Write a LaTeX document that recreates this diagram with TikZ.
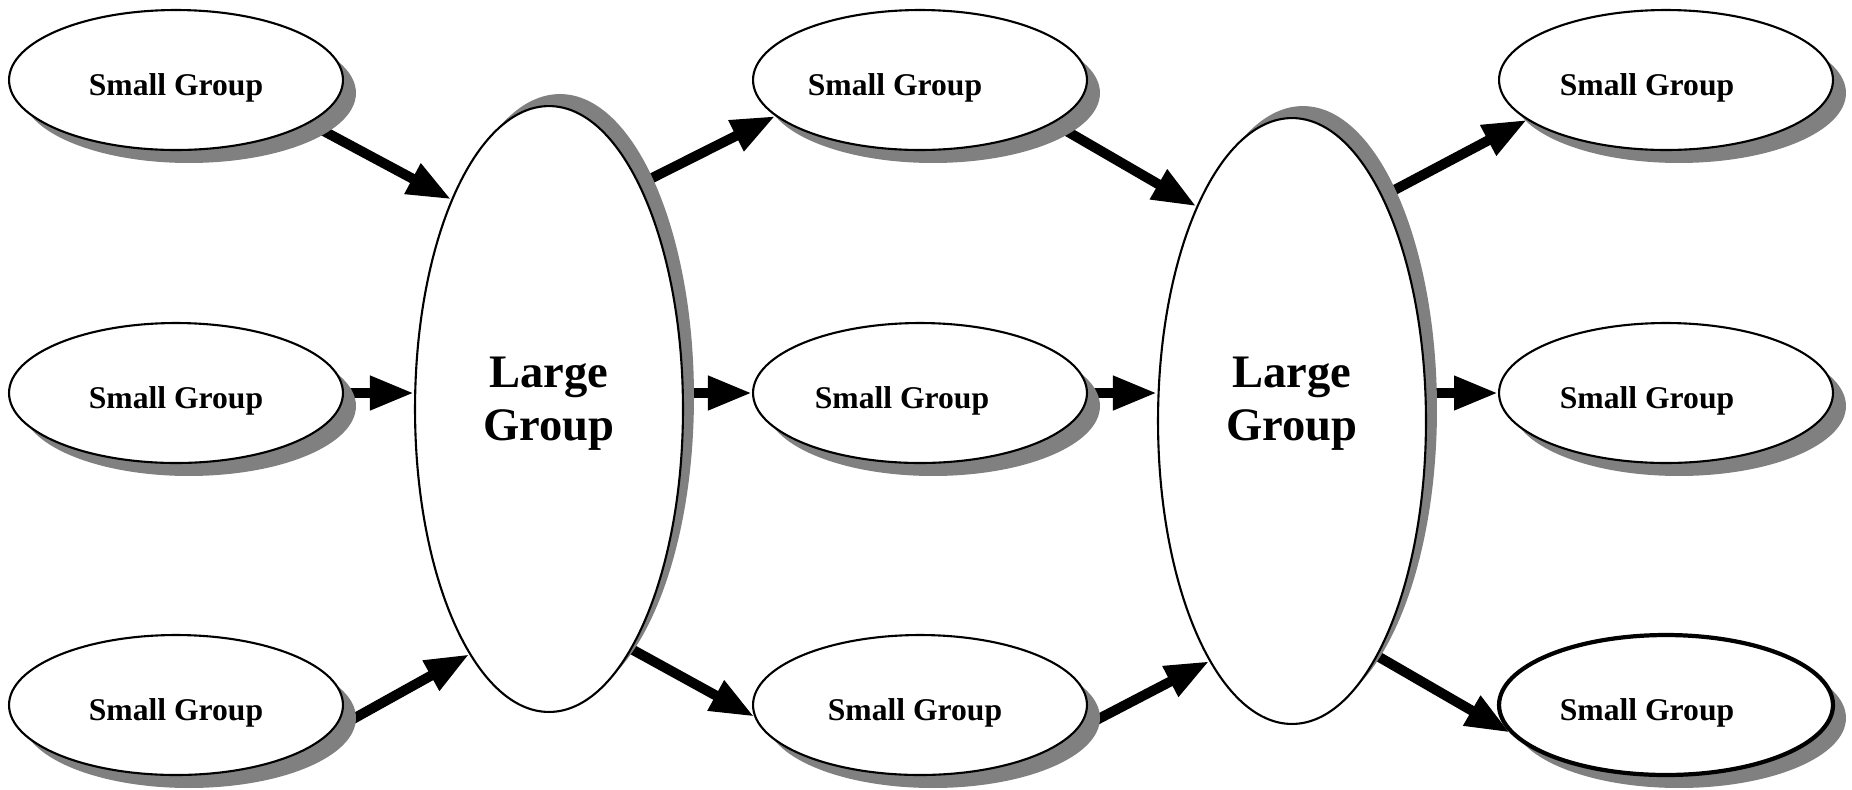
\documentclass[tikz,border=0pt]{standalone}
\usepackage{fontspec}
\setmainfont{Liberation Serif}
\usetikzlibrary{shapes.geometric,shadows,arrows.meta,backgrounds}
\definecolor{shadowgray}{RGB}{128,128,128}
\tikzset{
  grp/.style={ellipse, draw, line width=1.2pt, fill=white, inner sep=0pt},
  small/.style={grp, minimum width=6.68cm, minimum height=2.8cm,
    drop shadow={shadow xshift=0.26cm, shadow yshift=-0.26cm, fill=shadowgray, opacity=1}},
  large/.style={grp, minimum width=5.36cm, minimum height=12.12cm,
    drop shadow={shadow xshift=0.22cm, shadow yshift=0.24cm, fill=shadowgray, opacity=1}},
  sgtext/.style={font=\fontsize{18}{20}\selectfont\bfseries, inner sep=0pt, yshift=-0.15cm},
  lgtext/.style={font=\fontsize{26.5}{30}\selectfont\bfseries, align=center, inner sep=0pt},
  flow/.style={line width=0.2cm, -{Triangle[length=0.88cm,width=0.64cm]}},
}

\begin{document}
\begin{tikzpicture}[x=0.02cm, y=-0.02cm]
\useasboundingbox (0,0) rectangle (1852,789);
% left column
\node[small, label={[sgtext]center:Small Group}] (in1) at (176,80) {};
\node[small, label={[sgtext]center:Small Group}] (in2) at (176,393) {};
\node[small, label={[sgtext]center:Small Group}] (in3) at (176,705) {};
\node[large, label={[lgtext, yshift=0.1cm]center:Large\\Group}] (big1) at (549,409) {};
% middle column
\node[small, label={[sgtext, xshift=-0.5cm]center:Small Group}] (mid1) at (920,80) {};
\node[small, label={[sgtext, xshift=-0.36cm]center:Small Group}] (mid2) at (920,393) {};
\node[small, label={[sgtext, xshift=-0.1cm]center:Small Group}] (mid3) at (920,705) {};
\node[large, label={[lgtext, yshift=0.34cm]center:Large\\Group}] (big2) at (1292,421) {};
% right column
\node[small, label={[sgtext, xshift=-0.38cm]center:Small Group}] (out1) at (1666,80) {};
\node[small, label={[sgtext, xshift=-0.38cm]center:Small Group}] (out2) at (1666,393) {};
\node[small, line width=2.4pt, label={[sgtext, xshift=-0.38cm]center:Small Group}] (out3) at (1666,705) {};

\begin{scope}[on background layer]
  \fill[white] (0,0) rectangle (1852,789);
  \draw[flow] (in1.-18) -- (big1.115);
  \draw[flow] (in2.east) -- (in2.east -| big1.west);
  \draw[flow] (in3.-9) -- (big1.252);
  \draw[flow] (big1.68) -- (mid1.194);
  \draw[flow] (mid2.west -| big1.east) -- (mid2.west);
  \draw[flow] (big1.-71) -- (mid3.184);
  \draw[flow] (mid1.-18) -- (big2.114);
  \draw[flow] (mid2.east) -- (mid2.east -| big2.west);
  \draw[flow] (mid3.-9) -- (big2.251);
  \draw[flow] (big2.68) -- (out1.196);
  \draw[flow] (out2.west -| big2.east) -- (out2.west);
  \draw[flow] (big2.-70) -- (out3.190);
\end{scope}
\end{tikzpicture}
\end{document}
